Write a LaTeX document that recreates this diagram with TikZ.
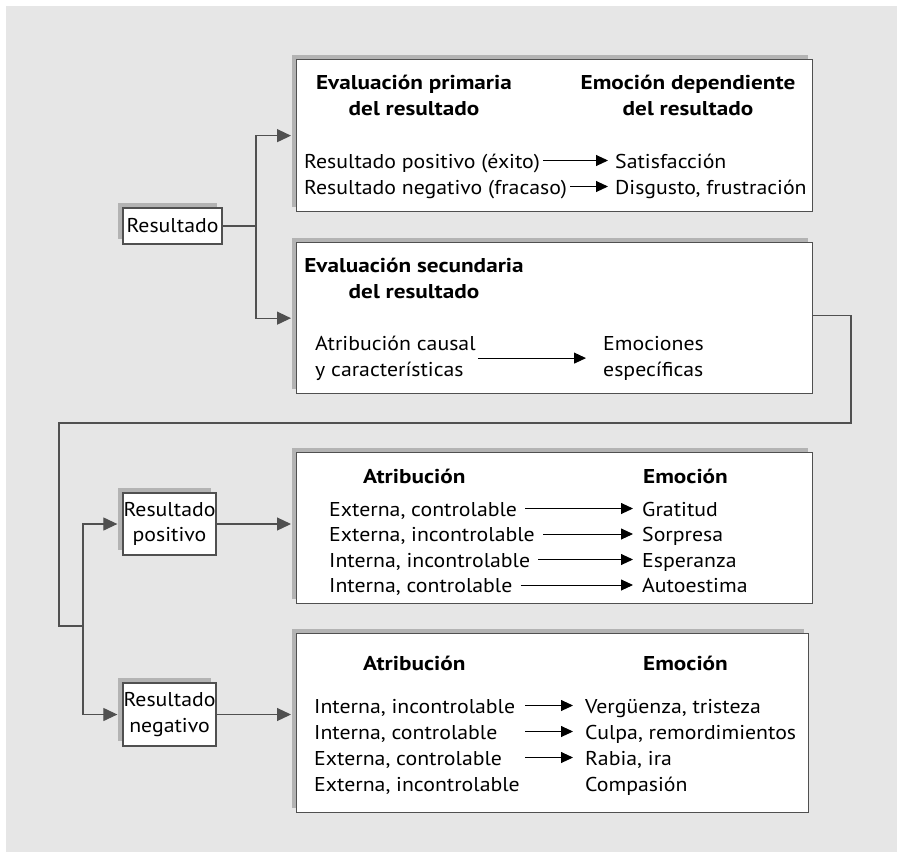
\documentclass[tikz,border=0pt]{standalone}
\usepackage{fontspec}
\setmainfont{PT Sans}[FakeStretch=1.09, BoldFeatures={FakeStretch=1.16}]
\usepackage{xcolor}
\usetikzlibrary{arrows.meta, positioning, calc, shadows}

\definecolor{fondo}{HTML}{E6E6E6}
\definecolor{sombra}{HTML}{B3B3B3}
\definecolor{marco}{HTML}{505050}

\tikzset{
  caja/.style={draw=marco, line width=1.3pt, fill=white, inner sep=0pt,
    general shadow={fill=sombra, shadow xshift=-5pt, shadow yshift=5pt}},
  cajita/.style={caja, align=center},
  cabeza/.style={inner sep=0pt, anchor=base, align=center, font=\fontsize{20}{25.5}\selectfont\bfseries},
  fila/.style={inner sep=0pt, anchor=base west, text height=15pt, text depth=0pt},
  enlace/.style={draw=marco, line width=1.2pt},
  punta/.style={-{Triangle[length=14pt,width=13pt]}},
  flecha/.style={-{Triangle[length=12pt,width=11pt]}, line width=0.9pt}
}

\begin{document}
\begin{tikzpicture}[x=1pt, y=-1pt, font=\fontsize{20}{25.5}\selectfont]
  \useasboundingbox (0,0) rectangle (901,854);
  \fill[fondo] (6,6) rectangle (897,852);

  % cajas grandes
  \node[caja, anchor=north west, minimum width=516pt, minimum height=152pt] (p1) at (296,59) {};
  \node[caja, anchor=north west, minimum width=516pt, minimum height=151pt] (p2) at (296,242) {};
  \node[caja, anchor=north west, minimum width=516pt, minimum height=151pt] (p3) at (296,452) {};
  \node[caja, anchor=north west, minimum width=512pt, minimum height=179pt] (p4) at (296,633) {};

  % cajas pequenas
  \node[cajita, minimum width=99pt, minimum height=36pt] (res) at (172.5,226) {Resultado};
  \node[cajita, minimum width=93pt, minimum height=62pt] (pos) at (169.5,524) {Resultado\\positivo};
  \node[cajita, minimum width=93pt, minimum height=63pt] (neg) at (169.5,714.5) {Resultado\\negativo};

  % evaluacion primaria (base = ultima linea)
  \node[cabeza] (h11) at (414,115) {Evaluación primaria\\del resultado};
  \node[cabeza] (h12) at (688,115) {Emoción dependiente\\del resultado};
  \node[fila] (a11) at (304,168) {Resultado positivo (éxito)};
  \node[fila] (e11) at (615,168) {Satisfacción};
  \node[fila] (a12) at (304,194) {Resultado negativo (fracaso)};
  \node[fila] (e12) at (615,194) {Disgusto, frustración};
  \draw[flecha, shorten <=3pt, shorten >=7pt] (a11.east) -- (e11.west);
  \draw[flecha, shorten <=3pt, shorten >=7pt] (a12.east) -- (e12.west);

  % evaluacion secundaria
  \node[cabeza] (h2) at (414,298) {Evaluación secundaria\\del resultado};
  \node[inner sep=0pt, anchor=base west, align=left] (a2) at (315,376) {Atribución causal\\y características};
  \node[inner sep=0pt, anchor=base west, align=left] (e2) at (603,376) {Emociones\\específicas};
  \draw[flecha, shorten <=2pt, shorten >=17pt] (a2.east) -- (a2.east -| e2.west);

  % resultado positivo
  \node[cabeza, anchor=base west] (h31) at (363,483) {Atribución};
  \node[cabeza, anchor=base west] (h32) at (643,483) {Emoción};
  \foreach \i/\a/\e [count=\n] in {516/{Externa, controlable}/Gratitud,
      541.5/{Externa, incontrolable}/Sorpresa,
      567/{Interna, incontrolable}/Esperanza,
      592.5/{Interna, controlable}/Autoestima}{
    \node[fila] (a3\n) at (329,\i) {\a};
    \node[fila] (e3\n) at (642,\i) {\e};
    \draw[flecha, shorten <=8pt, shorten >=9pt] (a3\n.east) -- (e3\n.west);
  }

  % resultado negativo
  \node[cabeza, anchor=base west] (h41) at (363,670) {Atribución};
  \node[cabeza, anchor=base west] (h42) at (643,670) {Emoción};
  \foreach \i/\a/\e [count=\n] in {713/{Interna, incontrolable}/{Vergüenza, tristeza},
      739/{Interna, controlable}/{Culpa, remordimientos},
      765/{Externa, controlable}/{Rabia, ira},
      791/{Externa, incontrolable}/Compasión}{
    \node[fila] (a4\n) at (314,\i) {\a};
    \node[fila] (e4\n) at (585,\i) {\e};
  }
  \foreach \n in {1,2,3}
    \draw[flecha, shorten >=12pt] ([xshift=211pt]a4\n.west) -- (e4\n.west);

  % conexiones
  \coordinate (split) at (256,226);
  \draw[enlace] (res.east) -- (split);
  \draw[enlace, punta] (split) |- ([xshift=-5pt]p1.west);
  \draw[enlace, punta] (split) |- ([xshift=-5pt]p2.west);

  \coordinate (vuelta) at (851,423);
  \coordinate (baja) at (59,626);
  \coordinate (reparto) at (83,626);
  \draw[enlace] ([yshift=3pt]p2.east) -| (vuelta) -| (baja) -- (reparto);
  \draw[enlace, punta] (reparto) |- ([xshift=-5pt]pos.west);
  \draw[enlace, punta] (reparto) |- ([xshift=-5pt]neg.west);
  \draw[enlace, punta, shorten >=5pt] (pos.east) -- (pos.east -| p3.west);
  \draw[enlace, punta, shorten >=5pt] (neg.east) -- (neg.east -| p4.west);
\end{tikzpicture}
\end{document}
